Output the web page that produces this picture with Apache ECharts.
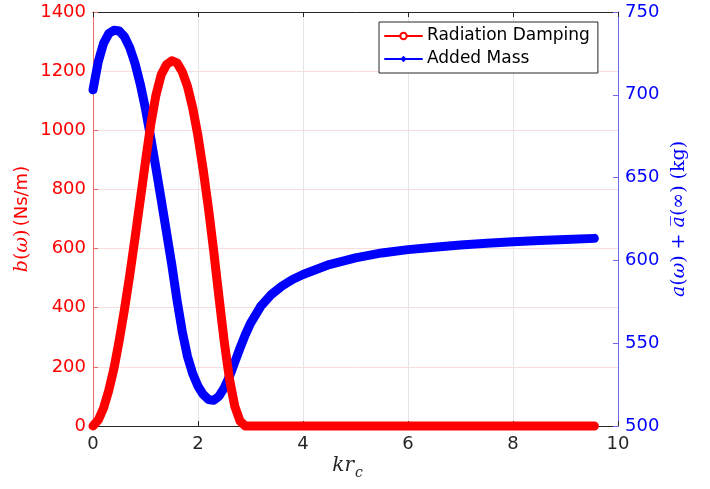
<!DOCTYPE html>
<html>
<head>
<meta charset="utf-8">
<script src="https://cdn.jsdelivr.net/npm/echarts@6/dist/echarts.min.js"></script>
<style>
  html, body { margin: 0; padding: 0; background: #fff; }
  #chart { width: 710px; height: 489px; }
</style>
</head>
<body>
<div id="chart"></div>
<script>
// Non-dimensional wavenumber k*r_c
const kr = [0, 0.1, 0.2, 0.3, 0.4, 0.5, 0.6, 0.7, 0.8, 0.9,
            1.0, 1.1, 1.2, 1.3, 1.4, 1.5, 1.6, 1.7, 1.8, 1.9,
            2.0, 2.1, 2.2, 2.3, 2.4, 2.5, 2.6, 2.7, 2.8, 2.9,
            3.0, 3.2, 3.4, 3.6, 3.8, 4.0, 4.5, 5.0, 5.5, 6.0,
            6.5, 7.0, 7.5, 8.0, 8.5, 9.0, 9.55];

// Radiation damping b(w) in Ns/m (left axis)
const damping = [0, 20, 60, 120, 195, 290, 395, 510, 635, 765,
                 895, 1020, 1120, 1188, 1222, 1235, 1228, 1198, 1148, 1075,
                 980, 865, 735, 590, 435, 285, 158, 67, 17, 0,
                 0, 0, 0, 0, 0, 0, 0, 0, 0, 0,
                 0, 0, 0, 0, 0, 0, 0];

// Added mass a(w) + a_bar(inf) in kg (right axis)
const addedMass = [703, 720, 731, 737, 739, 738.5, 735, 728.5, 719, 706.5,
                   691.5, 674, 655.5, 636.5, 617, 597.5, 576, 557, 542, 531.5,
                   524, 519, 516, 515.5, 518, 523, 530, 538.5, 547, 555,
                   562, 572.5, 579.5, 584.5, 588.5, 591.5, 597.5, 601.5, 604.5, 606.5,
                   608, 609.3, 610.3, 611.2, 612, 612.6, 613.3];

const xTicks = { min: 0, max: 10, interval: 2 };
const leftTicks = { min: 0, max: 1400, interval: 200 };
const rightTicks = { min: 500, max: 750, interval: 50 };

const RED = '#ff0000';
const BLUE = '#0000ff';
const DARK = '#262626';
const SANS = 'DejaVu Sans';
const SERIF = 'DejaVu Serif';

const chart = echarts.init(document.getElementById('chart'), null, { renderer: 'canvas' });

const tickStyle = (color) => ({ show: true, inside: true, length: 5, lineStyle: { color: color, width: 1 } });
const plain = (v) => String(v);

chart.setOption({
  animation: false,
  backgroundColor: '#fff',
  grid: { left: 93, right: 92, top: 12, bottom: 63, containLabel: false, outerBoundsMode: 'none' },
  legend: {
    data: [
      { name: 'Radiation Damping' },
      { name: 'Added Mass' }
    ],
    orient: 'vertical',
    left: 379,
    top: 22,
    padding: [4, 8, 4, 5],
    itemGap: 3,
    itemWidth: 37,
    itemHeight: 8,
    borderColor: DARK,
    borderWidth: 1,
    borderRadius: 0,
    backgroundColor: '#fff',
    lineStyle: { width: 2 },
    textStyle: { fontFamily: SANS, fontSize: 17, color: '#000', lineHeight: 20 }
  },
  xAxis: [
    {
      type: 'value', position: 'bottom',
      min: xTicks.min, max: xTicks.max, interval: xTicks.interval,
      axisLine: { show: true, onZero: false, lineStyle: { color: DARK, width: 1 } },
      axisTick: tickStyle(DARK),
      axisLabel: { color: DARK, fontFamily: SANS, fontSize: 18, margin: 9, formatter: plain },
      splitLine: { show: true, lineStyle: { color: '#e4e4e4', width: 1 } }
    },
    {
      type: 'value', position: 'top',
      min: xTicks.min, max: xTicks.max, interval: xTicks.interval,
      axisLine: { show: true, onZero: false, lineStyle: { color: DARK, width: 1 } },
      axisTick: tickStyle(DARK),
      axisLabel: { show: false },
      splitLine: { show: false }
    }
  ],
  yAxis: [
    {
      type: 'value', position: 'left',
      min: leftTicks.min, max: leftTicks.max, interval: leftTicks.interval,
      axisLine: { show: true, onZero: false, lineStyle: { color: '#f06a6a', width: 1 } },
      axisTick: tickStyle('#f06a6a'),
      axisLabel: { color: RED, fontFamily: SANS, fontSize: 18, margin: 7, formatter: plain },
      splitLine: { show: true, lineStyle: { color: '#f9dcdc', width: 1 } }
    },
    {
      type: 'value', position: 'right',
      min: rightTicks.min, max: rightTicks.max, interval: rightTicks.interval,
      axisLine: { show: true, onZero: false, lineStyle: { color: '#6a6af0', width: 1 } },
      axisTick: tickStyle('#6a6af0'),
      axisLabel: { color: BLUE, fontFamily: SANS, fontSize: 18, margin: 7, formatter: plain },
      splitLine: { show: false }
    }
  ],
  series: [
    {
      name: 'Radiation Damping',
      type: 'line',
      xAxisIndex: 0,
      yAxisIndex: 0,
      data: kr.map((x, i) => [x, damping[i]]),
      smooth: false,
      clip: false,
      z: 3,
      symbol: 'emptyCircle',
      symbolSize: 8,
      showSymbol: false,
      itemStyle: { color: RED, borderColor: RED },
      lineStyle: { color: RED, width: 9, cap: 'round', join: 'round' }
    },
    {
      name: 'Added Mass',
      type: 'line',
      xAxisIndex: 0,
      yAxisIndex: 1,
      data: kr.map((x, i) => [x, addedMass[i]]),
      smooth: false,
      clip: false,
      z: 2,
      symbol: 'diamond',
      symbolSize: 9,
      showSymbol: false,
      itemStyle: { color: BLUE, borderColor: BLUE },
      lineStyle: { color: BLUE, width: 9, cap: 'round', join: 'round' }
    }
  ],
  graphic: [
    {
      type: 'text', x: 22, y: 219, rotation: Math.PI / 2,
      style: {
        text: '{m|b}{r|(}{m|ω}{r|)} {u|(Ns/m)}',
        fill: RED, align: 'center', verticalAlign: 'middle',
        rich: {
          m: { fontFamily: SERIF, fontStyle: 'italic', fontSize: 19, fill: RED },
          r: { fontFamily: SERIF, fontSize: 19, fill: RED },
          u: { fontFamily: SANS, fontSize: 18, fill: RED }
        }
      }
    },
    {
      type: 'text', x: 679, y: 219, rotation: Math.PI / 2,
      style: {
        text: '{m|a}{r|(}{m|ω}{r|) + }{m|a\u0305}{r|(∞) (kg)}',
        fill: BLUE, align: 'center', verticalAlign: 'middle',
        rich: {
          m: { fontFamily: SERIF, fontStyle: 'italic', fontSize: 19, fill: BLUE },
          r: { fontFamily: SERIF, fontSize: 19, fill: BLUE }
        }
      }
    },
    {
      type: 'text', x: 354, y: 466,
      style: {
        text: 'kr', fill: DARK, align: 'right', verticalAlign: 'middle',
        font: 'italic 20px "DejaVu Serif"'
      }
    },
    {
      type: 'text', x: 355, y: 473,
      style: {
        text: 'c', fill: DARK, align: 'left', verticalAlign: 'middle',
        font: 'italic 14px "DejaVu Serif"'
      }
    }
  ]
});
</script>
</body>
</html>
